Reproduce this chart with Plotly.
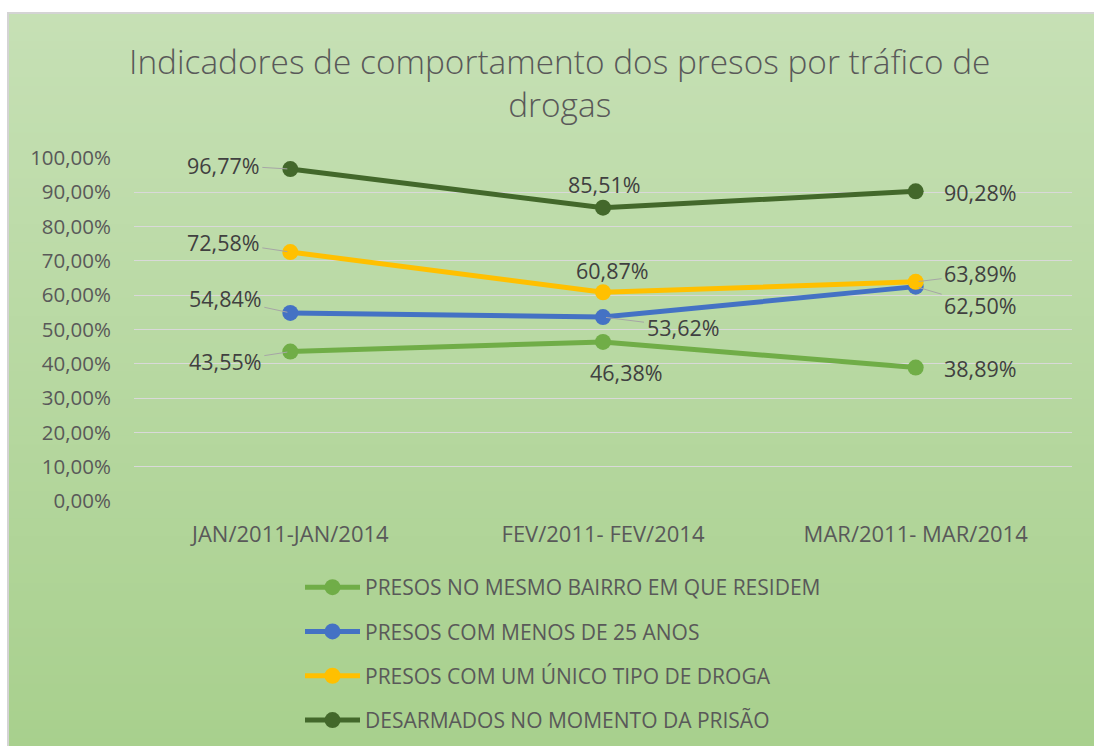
import plotly.graph_objects as go

# ---- data -------------------------------------------------------------
categories = ["JAN/2011-JAN/2014", "FEV/2011- FEV/2014", "MAR/2011- MAR/2014"]

series_names = [
    "PRESOS NO MESMO BAIRRO EM QUE RESIDEM",
    "PRESOS COM MENOS DE 25 ANOS",
    "PRESOS COM UM ÚNICO TIPO DE DROGA",
    "DESARMADOS NO MOMENTO DA PRISÃO",
]
mesmo_bairro = [0.4355, 0.4638, 0.3889]
menos_25 = [0.5484, 0.5362, 0.6250]
unico_tipo = [0.7258, 0.6087, 0.6389]
desarmados = [0.9677, 0.8551, 0.9028]

y_ticks = [0, 0.1, 0.2, 0.3, 0.4, 0.5, 0.6, 0.7, 0.8, 0.9, 1.0]
y_tick_text = ["0,00%", "10,00%", "20,00%", "30,00%", "40,00%", "50,00%",
               "60,00%", "70,00%", "80,00%", "90,00%", "100,00%"]

title_text = "Indicadores de comportamento dos presos por tráfico de<br>drogas"

# ---- styling ----------------------------------------------------------
W, H = 1094, 746
PLOT_L, PLOT_R, PLOT_T, PLOT_B = 134, 1072, 158, 501
FONT = "Open Sans, Lato, Noto Sans, sans-serif"
series_values = [mesmo_bairro, menos_25, unico_tipo, desarmados]
series_colors = ["#70ad47", "#4472c4", "#ffc000", "#43682b"]

# label placement per series/point: (dx px, dy px, leader line?)
label_offsets = [
    [(-65, 10, True), (23, 31, False), (65, 1, False)],
    [(-65, -14, True), (80, 10, True), (65, 19, True)],
    [(-67, -10, True), (9, -22, False), (65, -8, True)],
    [(-67, -4, True), (1, -23, False), (65, 1, False)],
]


def px_x(px):
    return (px - PLOT_L) / (PLOT_R - PLOT_L)


def px_y(py):
    return (PLOT_B - py) / (PLOT_B - PLOT_T)


def fmt_pct(v):
    return f"{v * 100:.2f}".replace(".", ",") + "%"


fig = go.Figure()

for name, vals, color in zip(series_names, series_values, series_colors):
    fig.add_trace(go.Scatter(
        x=categories, y=vals, name=name, mode="lines+markers",
        line=dict(color=color, width=5),
        marker=dict(color=color, size=16),
        legendgroup=name,
        hoverinfo="skip",
    ))

# data labels
annotations = []
for vals, offs in zip(series_values, label_offsets):
    for cat, v, (dx, dy, leader) in zip(categories, vals, offs):
        a = dict(
            x=cat, y=v, xref="x", yref="y", text=fmt_pct(v),
            font=dict(family=FONT, size=21.5, color="#404040"),
        )
        if leader:
            a.update(showarrow=True, ax=dx, ay=dy, axref="pixel", ayref="pixel",
                     arrowhead=0, arrowwidth=1, arrowcolor="#a6a6a6",
                     standoff=3, borderpad=2)
        else:
            a.update(showarrow=False, xshift=dx, yshift=-dy)
        annotations.append(a)

# chart title
annotations.append(dict(
    text=title_text, xref="paper", yref="paper",
    x=px_x(559), y=px_y(83), xanchor="center", yanchor="middle",
    showarrow=False,
    font=dict(family=FONT, size=33.4, color="#595959", weight=300),
))

# background: vertical gradient inside a thin frame
shapes = []
top_rgb = (198, 224, 181)
bot_rgb = (168, 208, 141)
y0, y1 = 13, H + 2
n_bands = 80
for i in range(n_bands):
    t = i / (n_bands - 1)
    r, g, b = (round(top_rgb[k] + (bot_rgb[k] - top_rgb[k]) * t) for k in range(3))
    ya = y0 + (y1 - y0) * i / n_bands
    yb = y0 + (y1 - y0) * (i + 1) / n_bands + 1
    shapes.append(dict(
        type="rect", xref="paper", yref="paper", layer="below",
        x0=px_x(8), x1=px_x(W + 2), y0=px_y(ya), y1=px_y(yb),
        fillcolor=f"rgb({r},{g},{b})", line=dict(width=0),
    ))
shapes.append(dict(
    type="rect", xref="paper", yref="paper", layer="below",
    x0=px_x(8), x1=px_x(W + 10), y0=px_y(13), y1=px_y(H + 10),
    fillcolor="rgba(0,0,0,0)", line=dict(color="#d4d4d4", width=2),
))

fig.update_layout(
    width=W, height=H,
    margin=dict(l=PLOT_L, r=W - PLOT_R, t=PLOT_T, b=H - PLOT_B, pad=0,
                autoexpand=False),
    paper_bgcolor="white",
    plot_bgcolor="rgba(0,0,0,0)",
    showlegend=True,
    legend=dict(
        x=px_x(300), y=px_y(567), xanchor="left", yanchor="top",
        orientation="v", traceorder="grouped", tracegroupgap=14,
        bgcolor="rgba(0,0,0,0)", itemwidth=55,
        font=dict(family=FONT, size=21, color="#595959"),
    ),
    annotations=annotations,
    shapes=shapes,
    hovermode=False,
)

fig.update_xaxes(
    type="category", range=[-0.5, 2.5], showgrid=False, zeroline=False,
    showline=False, ticks="", ticklabelstandoff=18,
    tickfont=dict(family=FONT, size=22, color="#595959"),
)
fig.update_yaxes(
    range=[0, 1.0], tickvals=y_ticks, ticktext=y_tick_text,
    showgrid=True, gridcolor="#d9d9d9", gridwidth=1.3,
    zeroline=False, showline=False, ticks="", ticklabelstandoff=22,
    tickfont=dict(family=FONT, size=20.5, color="#595959"),
)

fig.write_html("out.html")
